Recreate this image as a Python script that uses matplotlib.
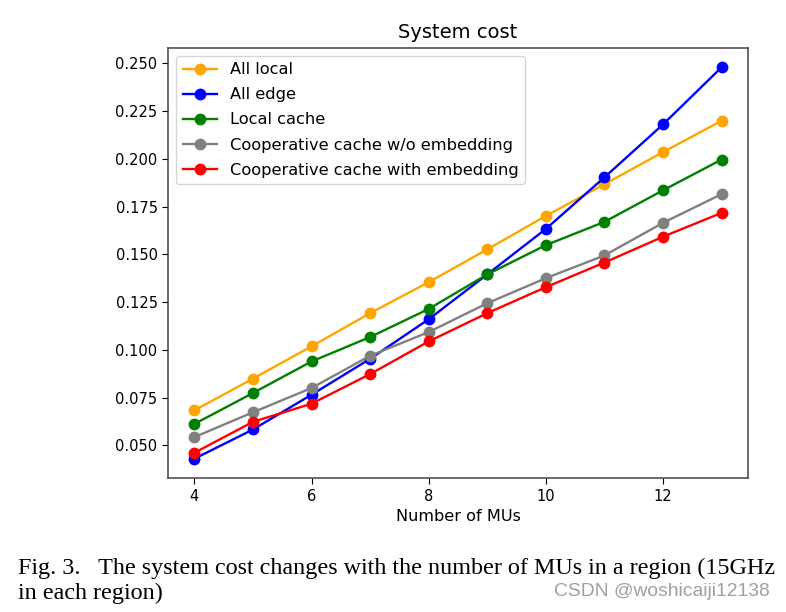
import matplotlib
matplotlib.use("Agg")
import matplotlib.pyplot as plt

# Number of MUs in a region
n_mus = [4, 5, 6, 7, 8, 9, 10, 11, 12, 13]

all_local = [0.0683, 0.0849, 0.1018, 0.1192, 0.1354, 0.1526, 0.1701, 0.1867, 0.2035, 0.2199]
all_edge = [0.0430, 0.0583, 0.0765, 0.0953, 0.1160, 0.1395, 0.1633, 0.1903, 0.2180, 0.2479]
local_cache = [0.0612, 0.0774, 0.0939, 0.1067, 0.1214, 0.1395, 0.1548, 0.1670, 0.1835, 0.1996]
coop_no_emb = [0.0543, 0.0673, 0.0800, 0.0969, 0.1093, 0.1244, 0.1375, 0.1494, 0.1665, 0.1815]
coop_emb = [0.0461, 0.0623, 0.0718, 0.0873, 0.1044, 0.1192, 0.1328, 0.1457, 0.1592, 0.1717]

series = [
    ("All local", all_local, "orange"),
    ("All edge", all_edge, "blue"),
    ("Local cache", local_cache, "green"),
    ("Cooperative cache w/o embedding", coop_no_emb, "gray"),
    ("Cooperative cache with embedding", coop_emb, "red"),
]

caption_1 = "Fig. 3.   The system cost changes with the number of MUs in a region (15GHz"
caption_2 = "in each region)"
watermark = "CSDN @woshicaiji12138"


def main():
    fig = plt.figure(figsize=(7.86, 6.12), dpi=100)
    ax = fig.add_axes([168 / 786, 1 - 478.3 / 612, 580 / 786, 430.6 / 612])

    for label, vals, color in series:
        ax.plot(n_mus, vals, marker="o", color=color, label=label,
                linewidth=1.7, markersize=7.5)

    ax.set_title("System cost", fontsize=14, pad=7)
    ax.set_xlabel("Number of MUs", fontsize=11.6, labelpad=4)
    ax.set_xticks([4, 6, 8, 10, 12])
    ax.tick_params(labelsize=10.5, length=4)
    ax.set_yticks([0.05, 0.075, 0.1, 0.125, 0.15, 0.175, 0.2, 0.225, 0.25])
    ax.set_yticklabels([f"{v:.3f}" for v in ax.get_yticks()])
    for s in ax.spines.values():
        s.set_color("#444444")
        s.set_linewidth(1.1)
    ax.legend(loc="upper left", fontsize=11.7, handlelength=2.1,
              labelspacing=0.62)

    fig.text(18 / 786, 1 - 568 / 612, caption_1, family="Liberation Serif",
             fontsize=17.4, va="center", ha="left")
    fig.text(18 / 786, 1 - 593 / 612, caption_2, family="Liberation Serif",
             fontsize=17.4, va="center", ha="left")
    fig.text(770 / 786, 1 - 592 / 612, watermark, family="Liberation Sans",
             fontsize=13.9, color="#a0a0a0", va="center", ha="right")

    fig.savefig("out.png", dpi=100)


if __name__ == "__main__":
    main()
